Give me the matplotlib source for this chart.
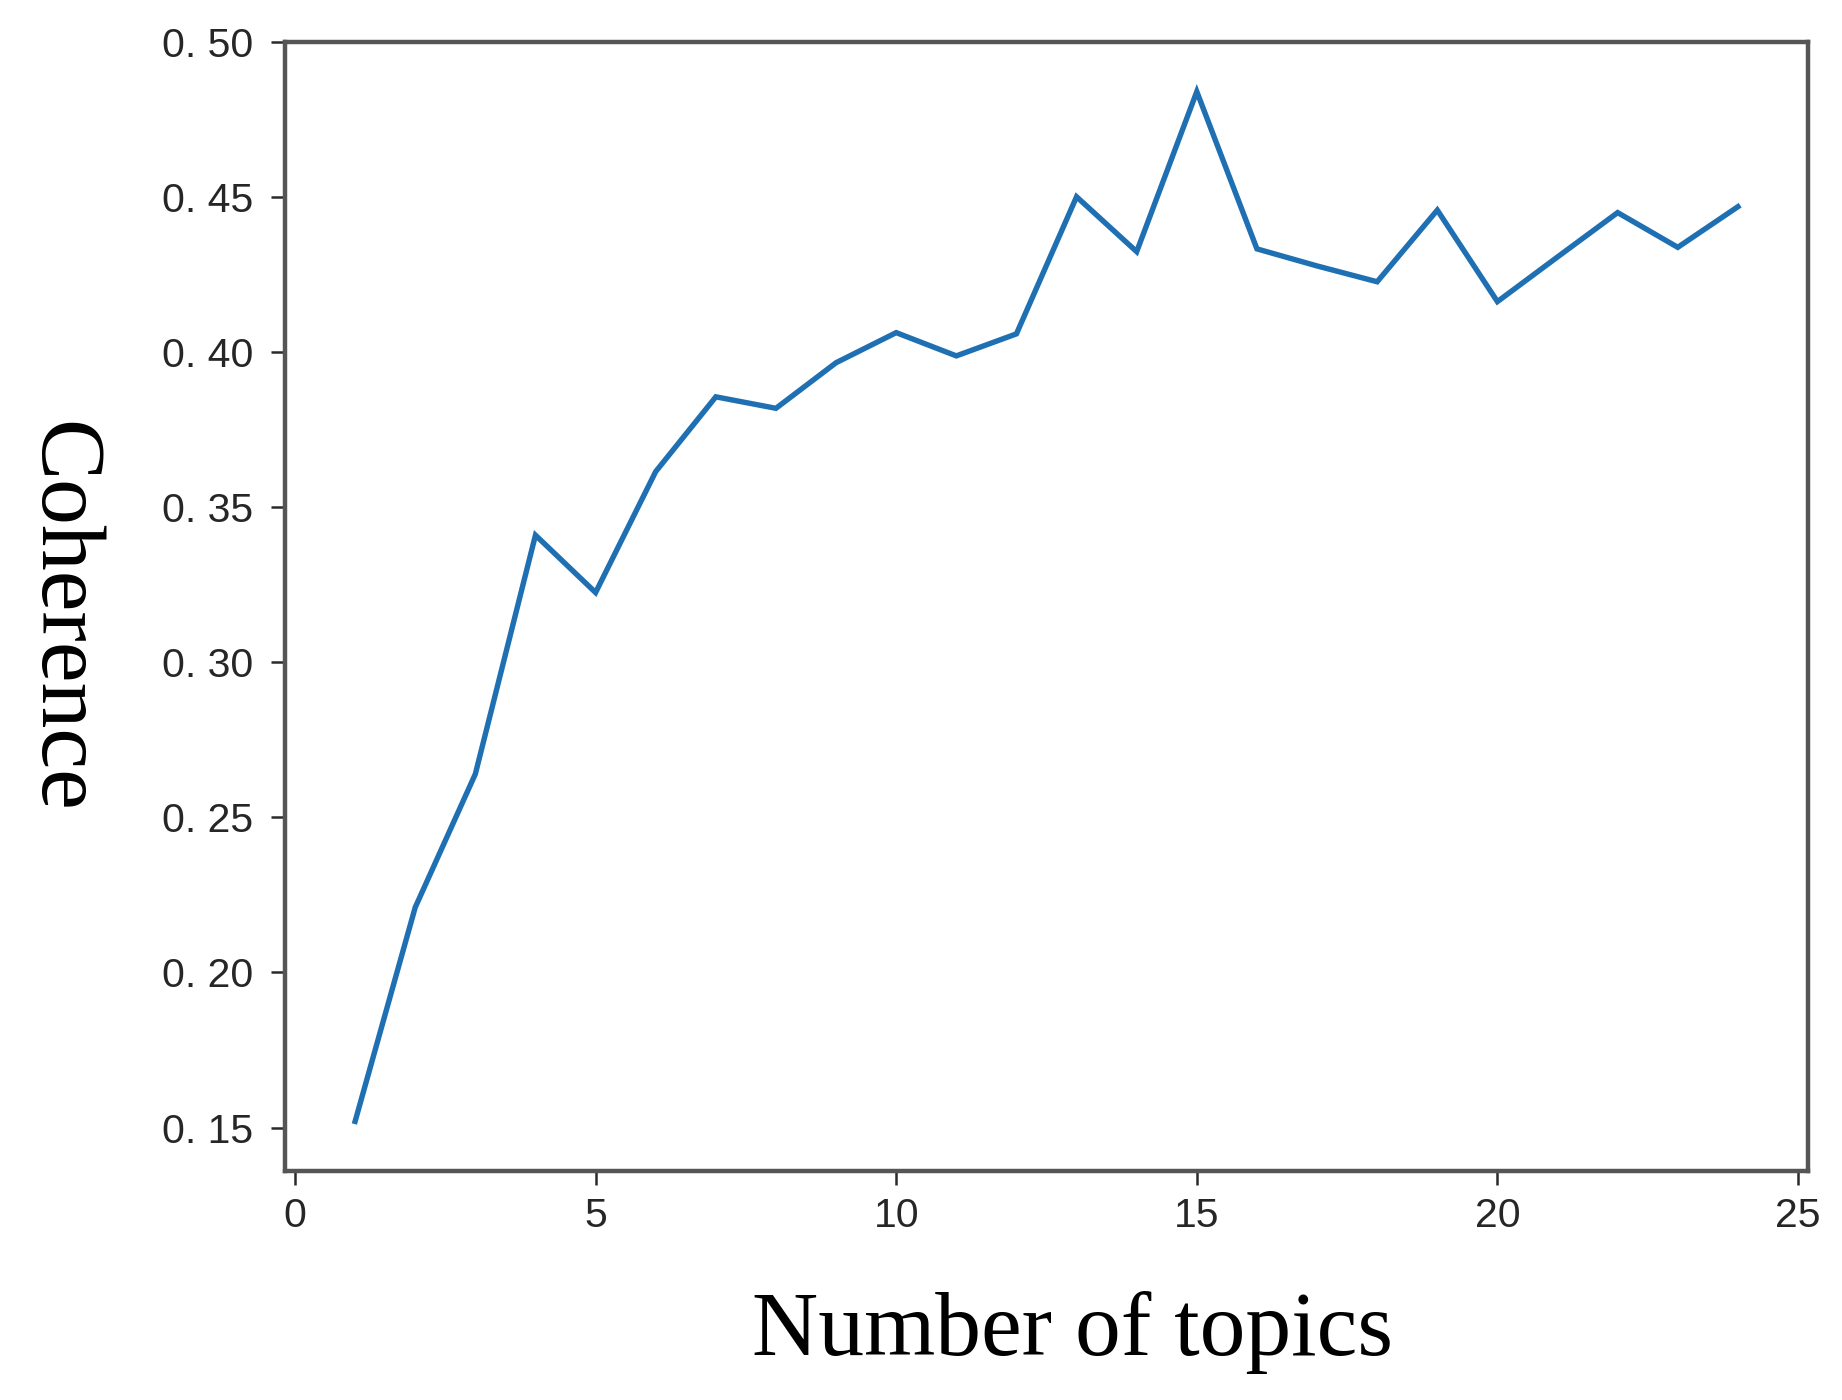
import matplotlib
matplotlib.use("Agg")
import matplotlib.pyplot as plt
from matplotlib import font_manager

# ---- data ----
num_topics = [1, 2, 3, 4, 5, 6, 7, 8, 9, 10, 11, 12,
              13, 14, 15, 16, 17, 18, 19, 20, 21, 22, 23, 24]
coherence = [0.152, 0.221, 0.264, 0.341, 0.3225, 0.3615, 0.3856, 0.3819,
             0.3966, 0.4063, 0.3988, 0.4059, 0.4501, 0.4324, 0.4840, 0.4333,
             0.4278, 0.4227, 0.4458, 0.4163, 0.4307, 0.4450, 0.4338, 0.4469]
y_ticks = [0.15, 0.20, 0.25, 0.30, 0.35, 0.40, 0.45, 0.50]
y_tick_labels = ["0. 15", "0. 20", "0. 25", "0. 30", "0. 35", "0. 40", "0. 45", "0. 50"]
x_ticks = [0, 5, 10, 15, 20, 25]
x_tick_labels = ["0", "5", "10", "15", "20", "25"]
x_label = "Number of topics"
y_label = "Coherence"

# ---- fonts ----
available = {f.name for f in font_manager.fontManager.ttflist}
tick_family = "Liberation Sans Narrow" if "Liberation Sans Narrow" in available else "Liberation Sans"
serif_family = "Liberation Serif"

W, H, DPI = 1842, 1400, 100
fig = plt.figure(figsize=(W / DPI, H / DPI), dpi=DPI)
ax = fig.add_axes([285 / W, 1 - 1171 / H, (1808 - 285) / W, (1171 - 42) / H])

ax.plot(num_topics, coherence, color="#1f70b3", linewidth=3.9, solid_joinstyle="miter")

ax.set_xlim(-0.166, 25.166)
ax.set_ylim(0.136, 0.50)

ax.set_yticks(y_ticks)
ax.set_yticklabels(y_tick_labels)
ax.set_xticks(x_ticks)
ax.set_xticklabels(x_tick_labels)

spine_color = "#555555"
for s in ax.spines.values():
    s.set_linewidth(3.2)
    s.set_color(spine_color)

ax.tick_params(axis="both", which="major", length=10, width=1.8, color="#2a2a2a",
               labelsize=29.5, labelcolor="#262626")
ax.tick_params(axis="y", pad=13)
ax.tick_params(axis="x", pad=9)
for lab in ax.get_xticklabels() + ax.get_yticklabels():
    lab.set_fontfamily(tick_family)

fig.text(1072 / W, 1 - 1355 / H, x_label, family=serif_family, fontsize=66,
         ha="center", va="baseline", color="black")
fig.text(60 / W, 1 - 617 / H, y_label, family=serif_family, fontsize=66,
         ha="center", va="center", rotation=270, color="black")

fig.savefig("out.png", dpi=DPI, facecolor="white")
